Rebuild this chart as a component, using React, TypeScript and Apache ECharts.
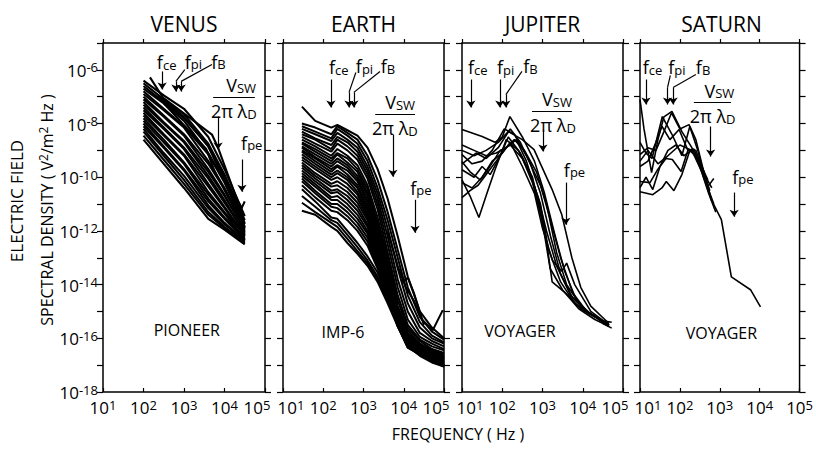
import React, { useEffect, useRef } from "react";
import * as echarts from "echarts";

const INK = "#000";
const FONT = "'Open Sans', 'DejaVu Sans', sans-serif";
const WEIGHT = 400;

// ---------- text ----------
const PANEL_NAMES = ["VENUS", "EARTH", "JUPITER", "SATURN"];
const SPACECRAFT = ["PIONEER", "IMP-6", "VOYAGER", "VOYAGER"];
const X_TITLE = "FREQUENCY ( Hz )";
const Y_TITLE_1 = "ELECTRIC FIELD";

// axis ranges (log10 units)
const X_MIN = 1, X_MAX = 5; // 10^1 .. 10^5 Hz
const Y_MIN = -18, Y_MAX = -5; // 10^-18 .. 10^-5 V^2/m^2 Hz

// ---------- VENUS (Pioneer) : log10 f, log10 E ----------
const VENUS_FREQ = [2.0, 2.5, 3.0, 3.6, 4.0, 4.5];
const VENUS_SPECTRA = [
  [-6.40, -6.95, -7.45, -8.50, -9.70, -11.45],
  [-6.50, -7.10, -7.65, -8.75, -9.90, -11.60],
  [-6.60, -7.20, -7.80, -8.85, -10.00, -11.75],
  [-6.70, -7.25, -7.90, -9.10, -10.15, -11.70],
  [-6.80, -7.45, -8.10, -9.15, -10.20, -11.85],
  [-6.90, -7.50, -8.15, -9.40, -10.40, -11.90],
  [-7.00, -7.70, -8.40, -9.50, -10.45, -11.85],
  [-7.10, -7.75, -8.45, -9.70, -10.65, -12.00],
  [-7.20, -7.95, -8.65, -9.80, -10.70, -11.95],
  [-7.30, -8.00, -8.70, -9.95, -10.85, -12.10],
  [-7.40, -8.15, -8.90, -10.05, -10.95, -12.05],
  [-7.50, -8.20, -8.95, -10.25, -11.10, -12.15],
  [-7.60, -8.40, -9.15, -10.35, -11.15, -12.20],
  [-7.70, -8.45, -9.20, -10.55, -11.30, -12.15],
  [-7.80, -8.60, -9.45, -10.65, -11.35, -12.30],
  [-7.90, -8.70, -9.50, -10.80, -11.50, -12.25],
  [-8.00, -8.85, -9.70, -10.90, -11.55, -12.35],
  [-8.10, -8.90, -9.75, -11.05, -11.70, -12.40],
  [-8.20, -9.10, -9.95, -11.15, -11.75, -12.35],
  [-8.30, -9.20, -10.10, -11.30, -11.85, -12.45],
  [-8.45, -9.35, -10.25, -11.40, -11.90, -12.40],
  [-8.60, -9.50, -10.40, -11.55, -11.95, -12.50],
];
const VENUS_EXTRA = [
  [[2.16, -6.28], [2.48, -7.03], [3.69, -8.41], [3.84, -8.9], [4.31, -10.84], [4.43, -11.15]],
  [[2.35, -6.95], [3.0, -7.75], [3.6, -8.85], [3.8, -9.5], [4.3, -11.0], [4.45, -11.3]],
  [[2.5, -7.25], [3.55, -8.95], [3.75, -9.75], [4.25, -11.2], [4.45, -11.5]],
  [[4.36, -11.35], [4.5, -10.9]],
];

// ---------- EARTH (IMP-6) ----------
const EARTH_FREQ = [1.47, 1.8, 2.2, 2.35, 2.6, 2.85, 3.1, 3.35, 3.6, 3.85, 4.1, 4.4, 4.7, 5.0];
const EARTH_SPECTRA = [
  [-7.37, -7.90, -8.15, -8.05, -8.25, -8.45, -8.90, -9.70, -10.80, -12.20, -13.70, -15.00, -15.60, -16.00],
  [-8.00, -8.15, -8.40, -8.10, -8.35, -8.60, -9.20, -10.10, -11.30, -12.70, -14.10, -15.20, -15.75, -16.05],
  [-8.10, -8.30, -8.55, -8.20, -8.45, -8.75, -9.40, -10.40, -11.60, -13.00, -14.40, -15.40, -15.90, -16.15],
  [-8.20, -8.40, -8.65, -8.35, -8.60, -8.90, -9.60, -10.60, -11.90, -13.40, -14.70, -15.60, -16.00, -16.20],
  [-8.30, -8.55, -8.80, -8.50, -8.70, -9.05, -9.75, -10.80, -12.20, -13.80, -15.00, -15.80, -16.10, -16.30],
  [-8.40, -8.60, -8.95, -8.60, -8.85, -9.20, -9.90, -11.00, -12.50, -14.10, -15.30, -15.95, -16.20, -16.40],
  [-8.50, -8.75, -9.05, -8.75, -9.00, -9.35, -10.05, -11.20, -12.80, -14.40, -15.50, -16.05, -16.30, -16.45],
  [-8.60, -8.85, -9.20, -8.95, -9.20, -9.55, -10.30, -11.50, -13.00, -14.60, -15.60, -16.10, -16.40, -16.55],
  [-8.70, -8.95, -9.30, -9.10, -9.30, -9.70, -10.45, -11.70, -13.20, -14.80, -15.70, -16.20, -16.45, -16.60],
  [-8.75, -9.05, -9.40, -9.15, -9.45, -9.80, -10.60, -11.85, -13.40, -14.90, -15.80, -16.20, -16.50, -16.65],
  [-8.85, -9.15, -9.50, -9.30, -9.55, -9.95, -10.70, -11.95, -13.50, -15.00, -15.85, -16.25, -16.55, -16.70],
  [-8.90, -9.25, -9.60, -9.40, -9.65, -10.05, -10.85, -12.10, -13.65, -15.05, -15.90, -16.30, -16.55, -16.70],
  [-9.00, -9.30, -9.70, -9.55, -9.75, -10.15, -10.95, -12.20, -13.75, -15.10, -15.95, -16.30, -16.60, -16.75],
  [-9.05, -9.40, -9.80, -9.60, -9.90, -10.30, -11.10, -12.30, -13.85, -15.20, -16.00, -16.35, -16.60, -16.75],
  [-9.15, -9.50, -9.90, -9.75, -10.00, -10.40, -11.20, -12.45, -13.95, -15.25, -16.05, -16.40, -16.65, -16.80],
  [-9.25, -9.60, -10.00, -9.85, -10.10, -10.55, -11.30, -12.55, -14.00, -15.30, -16.05, -16.40, -16.65, -16.80],
  [-9.35, -9.70, -10.10, -10.00, -10.25, -10.65, -11.40, -12.60, -14.05, -15.35, -16.10, -16.45, -16.70, -16.85],
  [-9.45, -9.85, -10.25, -10.15, -10.40, -10.80, -11.50, -12.65, -14.10, -15.35, -16.10, -16.45, -16.70, -16.85],
  [-9.55, -9.95, -10.35, -10.30, -10.55, -10.95, -11.60, -12.75, -14.15, -15.40, -16.15, -16.50, -16.75, -16.90],
  [-9.65, -10.05, -10.50, -10.45, -10.70, -11.10, -11.75, -12.85, -14.20, -15.40, -16.15, -16.50, -16.75, -16.90],
  [-9.75, -10.15, -10.60, -10.55, -10.85, -11.25, -11.85, -12.90, -14.25, -15.45, -16.20, -16.55, -16.80, -16.95],
  [-9.85, -10.25, -10.75, -10.70, -11.00, -11.40, -12.00, -13.00, -14.30, -15.45, -16.20, -16.55, -16.80, -16.95],
  [-9.95, -10.35, -10.85, -10.85, -11.15, -11.55, -12.10, -13.10, -14.35, -15.50, -16.25, -16.60, -16.85, -17.00],
  [-10.05, -10.50, -11.00, -11.00, -11.30, -11.70, -12.25, -13.20, -14.40, -15.50, -16.25, -16.60, -16.85, -17.00],
  [-10.15, -10.60, -11.10, -11.15, -11.45, -11.85, -12.40, -13.30, -14.45, -15.55, -16.30, -16.60, -16.85, -17.00],
  [-10.30, -10.75, -11.25, -11.30, -11.60, -12.00, -12.55, -13.40, -14.50, -15.55, -16.30, -16.65, -16.90, -17.05],
  [-10.45, -10.90, -11.50, -11.55, -12.00, -12.45, -12.95, -13.55, -14.45, -15.40, -16.25, -16.55, -16.80, -17.00],
  [-10.70, -11.10, -11.60, -11.70, -12.15, -12.60, -13.10, -13.70, -14.55, -15.45, -16.30, -16.55, -16.80, -17.00],
  [-10.95, -11.30, -11.70, -11.85, -12.30, -12.75, -13.20, -13.80, -14.60, -15.50, -16.35, -16.60, -16.85, -17.05],
  [-11.25, -11.40, -11.85, -12.00, -12.45, -12.85, -13.30, -13.90, -14.70, -15.55, -16.35, -16.60, -16.85, -17.05],
];
const EARTH_EXTRA = [
  [[3.6, -12.0], [3.85, -13.3], [4.05, -14.1], [4.25, -14.6], [4.45, -15.3], [4.72, -15.7], [4.97, -14.95]],
  [[3.95, -13.9], [4.1, -13.75], [4.25, -14.3], [4.5, -15.5]],
];

// ---------- JUPITER (Voyager) ----------
const JUPITER_SPECTRA = [
  [[1.0, -8.22], [1.5, -8.48], [1.82, -8.7], [2.0, -8.5], [2.19, -7.74], [2.5, -8.5], [2.8, -9.4], [3.05, -10.6], [3.3, -12.1], [3.55, -13.5], [3.85, -14.6], [4.2, -15.1], [4.65, -15.5]],
  [[1.0, -9.0], [1.3, -9.2], [1.6, -9.0], [1.9, -8.7], [2.15, -8.3], [2.5, -8.6], [2.79, -8.97], [3.24, -10.46], [3.48, -11.4], [3.73, -13.0], [3.95, -14.1], [4.2, -14.8], [4.65, -15.45]],
  [[1.0, -9.16], [1.25, -9.5], [1.5, -9.4], [1.75, -9.0], [2.05, -8.2], [2.3, -8.4], [2.6, -9.2], [2.95, -10.3], [3.2, -11.6], [3.45, -13.0], [3.75, -14.3], [4.1, -15.0], [4.65, -15.5]],
  [[1.0, -10.1], [1.2, -10.7], [1.42, -11.5], [1.62, -10.6], [1.82, -9.72], [2.1, -8.6], [2.4, -9.0], [2.7, -9.9], [2.95, -11.0], [3.15, -12.7], [3.45, -13.9], [3.8, -14.7], [4.2, -15.1], [4.65, -15.55]],
  [[1.0, -9.42], [1.2, -9.8], [1.45, -10.1], [1.65, -9.7], [1.95, -9.0], [2.2, -8.8], [2.5, -9.3], [2.75, -10.2], [2.99, -11.6], [3.19, -13.4], [3.5, -14.2], [3.9, -14.9], [4.3, -15.3], [4.65, -15.55]],
  [[1.0, -9.72], [1.3, -10.0], [1.5, -9.6], [1.7, -9.9], [1.95, -9.2], [2.15, -8.5], [2.45, -9.1], [2.75, -10.0], [2.94, -11.2], [3.1, -12.4], [3.24, -13.9], [3.56, -14.3], [3.98, -14.94], [4.65, -15.5]],
  [[1.0, -10.2], [1.25, -10.4], [1.5, -10.0], [1.75, -9.4], [2.0, -9.1], [2.2, -8.7], [2.5, -9.6], [2.8, -10.6], [3.0, -11.9], [3.25, -13.1], [3.48, -13.5], [3.6, -13.2], [3.8, -14.0], [4.2, -15.0], [4.65, -15.5]],
  [[1.0, -8.8], [1.3, -9.0], [1.6, -9.2], [1.85, -9.1], [2.1, -8.9], [2.3, -8.6], [2.55, -9.0], [2.85, -9.8], [3.1, -11.0], [3.35, -12.8], [3.6, -14.0], [4.0, -14.9], [4.65, -15.5]],
  [[1.0, -10.76], [1.2, -10.5], [1.4, -10.3], [1.6, -9.9], [1.85, -9.4], [2.1, -8.9], [2.35, -8.6], [2.6, -9.4], [2.9, -10.8], [3.1, -12.0], [3.35, -13.3], [3.7, -14.4], [4.1, -15.0], [4.65, -15.5]],
  [[1.0, -9.5], [1.35, -9.1], [1.6, -9.3], [1.9, -8.9], [2.2, -8.2], [2.45, -8.7], [2.7, -9.5], [2.95, -10.6], [3.2, -12.2], [3.45, -13.6], [3.75, -14.5], [4.1, -15.0], [4.65, -15.5]],
  [[4.5, -15.35], [4.72, -15.4]],
  [[4.5, -15.45], [4.72, -15.62]],
];

// ---------- SATURN (Voyager) ----------
const SATURN_SPECTRA = [
  [[1.0, -7.1], [1.1, -8.2], [1.29, -9.83], [1.45, -8.6], [1.6, -7.75], [1.8, -7.55], [2.05, -8.3], [2.3, -8.9], [2.5, -9.6], [2.72, -10.6], [2.9, -11.3]],
  [[1.0, -8.7], [1.15, -9.1], [1.3, -9.3], [1.56, -7.74], [1.8, -8.4], [2.05, -9.2], [2.25, -8.1], [2.4, -8.6], [2.6, -9.8], [2.8, -10.9]],
  [[1.0, -9.16], [1.2, -8.9], [1.4, -9.0], [1.6, -8.3], [1.79, -7.6], [2.0, -8.2], [2.23, -8.04], [2.45, -9.0], [2.65, -10.2], [2.85, -11.0]],
  [[1.0, -9.6], [1.2, -9.4], [1.4, -8.7], [1.55, -8.1], [1.75, -8.6], [1.98, -8.22], [2.2, -9.0], [2.4, -9.0], [2.6, -9.8], [2.75, -10.5]],
  [[1.0, -10.16], [1.25, -10.2], [1.45, -9.7], [1.65, -9.3], [1.81, -9.34], [2.03, -9.79], [2.2, -9.0], [2.35, -8.95], [2.55, -9.7], [2.72, -10.4]],
  [[1.0, -10.54], [1.32, -10.65], [1.55, -10.4], [1.66, -10.16], [1.85, -10.5], [2.05, -9.9], [2.25, -9.0], [2.45, -9.3], [2.7, -10.1]],
  [[1.0, -10.39], [1.15, -10.0], [1.32, -10.46], [1.5, -9.6], [1.7, -9.0], [1.9, -8.8], [2.1, -9.2], [2.3, -9.0], [2.5, -9.4], [2.65, -10.0], [2.8, -10.4]],
  [[1.0, -9.4], [1.2, -9.0], [1.45, -9.5], [1.7, -9.2], [2.0, -8.8], [2.3, -9.0], [2.55, -9.8], [2.79, -10.84], [3.04, -11.58], [3.29, -13.71], [3.77, -14.19], [4.02, -14.83]],
  [[2.7, -10.35], [2.85, -10.05]],
];

// ---------- annotation marks (log10 f, log10 E) ----------
// vertical arrows: [f, top, bottom]
const ARROWS = [
  [[2.46, -6.06, -6.73], [2.80, -6.43, -6.81], [2.93, -6.43, -6.81], [3.84, -7.74, -8.97], [4.43, -9.34, -10.54]],
  [[2.19, -6.36, -7.40], [2.64, -6.84, -7.40], [2.76, -6.84, -7.40], [3.73, -8.41, -9.98], [4.28, -10.84, -12.07]],
  [[1.22, -6.36, -7.40], [1.94, -6.36, -7.40], [2.09, -6.92, -7.40], [3.01, -8.22, -9.04], [3.58, -10.20, -11.77]],
  [[1.15, -6.36, -7.29], [1.69, -6.66, -7.29], [1.83, -6.66, -7.29], [2.77, -8.11, -9.23], [3.36, -10.57, -11.47]],
];
// leader lines: [f1, e1, f2, e2]
const LEADERS = [
  [[2.80, -6.43, 3.02, -5.99], [2.93, -6.43, 3.69, -5.80]],
  [[2.64, -6.84, 2.81, -6.10], [2.76, -6.84, 3.41, -6.06]],
  [[2.09, -6.92, 2.49, -6.06]],
  [[1.69, -6.66, 1.76, -6.21], [1.83, -6.66, 2.40, -6.17]],
];
// fraction bars: [f1, f2, e]
const BARS = [
  [3.72, 4.75, -7.03],
  [3.29, 4.28, -7.66],
  [2.74, 3.73, -7.55],
  [2.35, 3.28, -7.22],
];
// label anchors
const FCE_AT = [[2.33, -5.72], [2.14, -5.91], [1.15, -5.91], [1.07, -5.91]];
const FPI_AT = [[3.02, -5.69], [2.81, -5.87], [1.87, -5.91], [1.71, -5.91]];
const FB_AT = [[3.67, -5.69], [3.43, -5.87], [2.52, -5.87], [2.40, -5.91]];
const VSW_AT = [[4.41, -6.58], [3.91, -7.21], [3.36, -7.10], [2.99, -6.77]];
const LAMBDA_AT = [[4.23, -7.54], [3.78, -8.17], [3.26, -8.06], [2.82, -7.72]];
const FPE_AT = [[4.41, -8.71], [4.16, -10.39], [3.53, -9.72], [3.31, -9.98]];
const CRAFT_AT = [[3.07, -15.69], [2.49, -15.76], [2.44, -15.72], [3.04, -15.8]];

// ---------- layout ----------
const GRID_LEFT = [103, 283, 462, 640];
const GRID_W = [162, 161, 161, 163];
const GRID_TOP = 43;
const GRID_H = 349;
const LINE_W = [2.1, 2.0, 1.6, 1.6];

const tx = (o: any) => ({ fontFamily: FONT, fontWeight: WEIGHT, color: INK, fill: INK, ...o });

const AX_RICH = {
  b: tx({ fontSize: 17, lineHeight: 18, padding: [8, 0, 0, 0], verticalAlign: "bottom" }),
  bl: tx({ fontSize: 17, lineHeight: 18, padding: [8, 0, 0, 16], verticalAlign: "bottom" }),
  s: tx({ fontSize: 13, lineHeight: 14, verticalAlign: "top" }),
  sr: tx({ fontSize: 13, lineHeight: 14, padding: [0, 16, 0, 0], verticalAlign: "top" }),
};
const AY_RICH = {
  b: tx({ fontSize: 17, lineHeight: 18, padding: [6, 0, 0, 0], verticalAlign: "bottom" }),
  s: tx({ fontSize: 13, lineHeight: 14, verticalAlign: "top" }),
};
const ANN_RICH = {
  f: tx({ fontSize: 18, lineHeight: 18, verticalAlign: "top" }),
  sub: tx({ fontSize: 13, lineHeight: 14, padding: [8, 0, 0, 0], verticalAlign: "bottom" }),
  n: tx({ fontSize: 16, lineHeight: 18 }),
};

function toPairs(xs: number[], ys: number[]) {
  return ys.map((y, i) => [xs[i], y]);
}

function buildOption() {
  const grid: any[] = [];
  const xAxis: any[] = [];
  const yAxis: any[] = [];
  const series: any[] = [];

  for (let i = 0; i < 4; i++) {
    grid.push({
      left: GRID_LEFT[i], top: GRID_TOP, width: GRID_W[i], height: GRID_H,
      show: true, borderColor: INK, borderWidth: 1.5, backgroundColor: "transparent",
    });
    const common = {
      type: "value", gridIndex: i, min: X_MIN, max: X_MAX, interval: 1,
      axisLine: { show: false }, splitLine: { show: false },
    };
    xAxis.push({
      ...common, position: "bottom",
      axisTick: { show: true, inside: true, length: 4, lineStyle: { color: INK, width: 1.2 } },
      axisLabel: {
        show: true, margin: 6, rich: AX_RICH,
        formatter: (v: number) => {
          const e = Math.round(v);
          if (e === X_MIN && i > 0) return `{bl|10}{s|${e}}`;
          if (e === X_MAX && i < 3) return `{b|10}{sr|${e}}`;
          return `{b|10}{s|${e}}`;
        },
      },
    });
    xAxis.push({
      ...common, position: "top",
      axisTick: { show: true, inside: false, length: 4, lineStyle: { color: INK, width: 1.2 } },
      axisLabel: { show: false },
    });
    const ycommon = {
      type: "value", gridIndex: i, min: Y_MIN, max: Y_MAX, interval: 1,
      axisLine: { show: false }, splitLine: { show: false },
    };
    yAxis.push({
      ...ycommon, position: "left",
      axisTick: { show: true, inside: false, length: 6, lineStyle: { color: INK, width: 1.2 } },
      axisLabel: {
        show: i === 0, margin: 5, rich: AY_RICH,
        formatter: (v: number) => {
          const e = Math.round(v);
          return e % 2 === 0 ? `{b|10}{s|${e}}` : "";
        },
      },
    });
    yAxis.push({
      ...ycommon, position: "right",
      axisTick: { show: true, inside: false, length: 6, lineStyle: { color: INK, width: 1.2 } },
      axisLabel: { show: false },
    });
  }

  const addLine = (panel: number, data: number[][]) => {
    series.push({
      type: "line", xAxisIndex: panel * 2, yAxisIndex: panel * 2, data,
      showSymbol: false, symbol: "none", silent: true, z: 2,
      lineStyle: { color: INK, width: LINE_W[panel] },
    });
  };
  VENUS_SPECTRA.forEach((ys) => addLine(0, toPairs(VENUS_FREQ, ys)));
  VENUS_EXTRA.forEach((d) => addLine(0, d));
  EARTH_SPECTRA.forEach((ys) => addLine(1, toPairs(EARTH_FREQ, ys)));
  EARTH_EXTRA.forEach((d) => addLine(1, d));
  JUPITER_SPECTRA.forEach((d) => addLine(2, d));
  SATURN_SPECTRA.forEach((d) => addLine(3, d));

  // arrows, leader lines and fraction bars
  for (let i = 0; i < 4; i++) {
    const ml: any[] = [];
    ARROWS[i].forEach(([f, a, b]) => {
      ml.push([
        { coord: [f, a], symbol: "none" },
        { coord: [f, b], symbol: "arrow", symbolSize: 7 },
      ]);
    });
    LEADERS[i].forEach(([f1, e1, f2, e2]) => {
      ml.push([{ coord: [f1, e1], symbol: "none" }, { coord: [f2, e2], symbol: "none" }]);
    });
    const [b1, b2, be] = BARS[i];
    ml.push([{ coord: [b1, be], symbol: "none" }, { coord: [b2, be], symbol: "none" }]);
    series.push({
      type: "line", xAxisIndex: i * 2, yAxisIndex: i * 2, data: [], silent: true, z: 5,
      markLine: {
        silent: true, animation: false, symbol: ["none", "none"],
        label: { show: false },
        lineStyle: { color: INK, width: 1.2, type: "solid" },
        data: ml,
      },
    });
  }

  return {
    animation: false,
    backgroundColor: "#fff",
    grid, xAxis, yAxis, series,
  };
}

function buildGraphic(chart: any) {
  const graphic: any[] = [];
  PANEL_NAMES.forEach((name, i) => {
    graphic.push({
      type: "text", x: GRID_LEFT[i] + GRID_W[i] / 2, y: 24,
      style: tx({ text: name, fontSize: 21, align: "center", verticalAlign: "middle" }),
    });
  });
  graphic.push({
    type: "text", x: 16, y: 201, rotation: Math.PI / 2,
    style: tx({ text: Y_TITLE_1, fontSize: 17, align: "center", verticalAlign: "middle" }),
  });
  graphic.push({
    type: "text", x: 46, y: 210, rotation: Math.PI / 2,
    style: {
      text: "{a|SPECTRAL DENSITY ( V}{s|2}{a|/m}{s|2}{a| Hz )}",
      align: "center", verticalAlign: "middle",
      rich: {
        a: tx({ fontSize: 16, lineHeight: 17, padding: [6, 0, 0, 0], verticalAlign: "bottom" }),
        s: tx({ fontSize: 12, lineHeight: 13, verticalAlign: "top" }),
      },
    },
  });
  graphic.push({
    type: "text", x: 458, y: 434,
    style: tx({ text: X_TITLE, fontSize: 16, align: "center", verticalAlign: "middle" }),
  });

  const put = (panel: number, at: number[], text: string, align: string) => {
    const p = chart.convertToPixel({ xAxisIndex: panel * 2, yAxisIndex: panel * 2 }, at);
    graphic.push({
      type: "text", x: p[0], y: p[1], z: 10,
      style: { text, rich: ANN_RICH, align, verticalAlign: "middle", fill: INK },
    });
  };
  for (let i = 0; i < 4; i++) {
    put(i, FCE_AT[i], "{f|f}{sub|ce}", "left");
    put(i, FPI_AT[i], "{f|f}{sub|pi}", "left");
    put(i, FB_AT[i], "{f|f}{sub|B}", "left");
    put(i, VSW_AT[i], "{f|V}{sub|SW}", "center");
    put(i, LAMBDA_AT[i], "{f|2π λ}{sub|D}", "center");
    put(i, FPE_AT[i], "{f|f}{sub|pe}", "left");
    put(i, CRAFT_AT[i], `{n|${SPACECRAFT[i]}}`, "center");
  }
  return graphic;
}

export default function App() {
  const ref = useRef<HTMLDivElement>(null);
  useEffect(() => {
    const chart = echarts.init(ref.current as HTMLDivElement, null, { renderer: "svg", width: 816, height: 450 });
    chart.setOption(buildOption() as any);
    chart.setOption({ graphic: buildGraphic(chart) } as any);
    return () => chart.dispose();
  }, []);
  return (
    <div
      ref={ref}
      style={{ position: "fixed", left: 0, top: 0, width: 816, height: 450, background: "#fff" }}
    />
  );
}
